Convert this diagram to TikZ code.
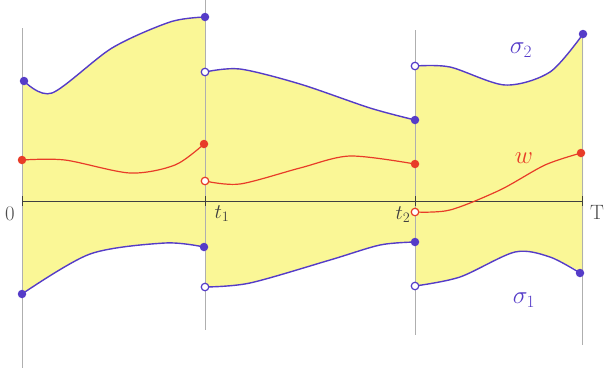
\documentclass[tikz,border=0pt]{standalone}
\usepackage{tikz}
\definecolor{yfill}{RGB}{250,247,150}
\definecolor{sblue}{RGB}{85,60,200}
\definecolor{wred}{RGB}{232,60,40}
\definecolor{vgray}{RGB}{175,175,175}
\tikzset{
  bluecurve/.style={draw=sblue, line width=1.4pt, line cap=round},
  redcurve/.style={draw=wred, line width=1.2pt, line cap=round},
  fdot/.style={circle, inner sep=0pt, minimum size=8.5pt},
  odot/.style={circle, inner sep=0pt, minimum size=7.5pt, fill=white, line width=1.2pt},
  vline/.style={draw=vgray, line width=0.4pt},
  lbl/.style={inner sep=1pt, font=\fontsize{20}{24}\selectfont},
  big/.style={inner sep=1pt, font=\fontsize{24}{28}\selectfont},
}
\begin{document}
\begin{tikzpicture}[x=1pt,y=-1pt]
\useasboundingbox (0,0) rectangle (604,368);
% yellow regions
\fill[yfill] plot[smooth] coordinates {(22,81) (52,93) (112,48) (170,22) (205,17)}
  -- plot[smooth] coordinates {(205,247) (165,243) (90,254) (22,294)} -- cycle;
\fill[yfill] plot[smooth] coordinates {(205,72) (240,69) (300,84) (370,108) (415,120)}
  -- plot[smooth] coordinates {(415,242) (380,245) (330,260) (250,283) (205,287)} -- cycle;
\fill[yfill] plot[smooth] coordinates {(415,66) (450,67) (505,85) (550,72) (583,34)}
  -- plot[smooth] coordinates {(583,273) (550,257) (515,252) (460,277) (415,286)} -- cycle;
% vertical lines
\coordinate (v0t) at (22,28);  \coordinate (v0b) at (22,368);
\coordinate (v1t) at (205,0);  \coordinate (v1b) at (205,330);
\coordinate (v2t) at (415,30); \coordinate (v2b) at (415,335);
\coordinate (v3t) at (582,30); \coordinate (v3b) at (582,345);
\draw[vline] (v0t) -- (v0b);
\draw[vline] (v1t) -- (v1b);
\draw[vline] (v2t) -- (v2b);
\draw[vline] (v3t) -- (v3b);
% axis
\coordinate (a0) at (22,201); \coordinate (a3) at (582,201);
\draw[black!75, line width=0.7pt] (a0) -- (a3);
\foreach \x in {22,205,415,582} \draw[black!75, line width=0.7pt] (\x,196) -- (\x,206);
\node[lbl, text=black!70] (l0) at (10,214) {$0$};
\node[lbl, text=black!75] (l1) at (222,214) {$t_1$};
\node[lbl, text=black!75] (l2) at (403,215) {$t_2$};
\node[lbl, text=black!70] (lT) at (597,212) {$\mathrm{T}$};
% sigma2
\draw[bluecurve] plot[smooth] coordinates {(24,81) (52,93) (112,48) (170,22) (205,17)};
\draw[bluecurve] plot[smooth] coordinates {(205,72) (240,69) (300,84) (370,108) (415,120)};
\draw[bluecurve] plot[smooth] coordinates {(415,66) (450,67) (505,85) (550,72) (583,34)};
% w
\draw[redcurve] plot[smooth] coordinates {(22,160) (65,160) (130,173) (175,165) (204,144)};
\draw[redcurve] plot[smooth] coordinates {(205,181) (240,184) (300,168) (350,156) (415,164)};
\draw[redcurve] plot[smooth] coordinates {(415,212) (450,210) (500,190) (545,165) (581,153)};
% sigma1
\draw[bluecurve] plot[smooth] coordinates {(22,294) (90,254) (165,243) (204,247)};
\draw[bluecurve] plot[smooth] coordinates {(205,287) (250,283) (330,260) (380,245) (415,242)};
\draw[bluecurve] plot[smooth] coordinates {(415,286) (460,277) (515,252) (550,257) (580,273)};
% dots
\node[fdot, fill=sblue] (s2a) at (24,81) {};
\node[fdot, fill=sblue] (s2b) at (205,17) {};
\node[odot, draw=sblue] (s2c) at (205,72) {};
\node[fdot, fill=sblue] (s2d) at (415,120) {};
\node[odot, draw=sblue] (s2e) at (415,66) {};
\node[fdot, fill=sblue] (s2f) at (583,34) {};
\node[fdot, fill=wred] (wa) at (22,160) {};
\node[fdot, fill=wred] (wb) at (204,144) {};
\node[odot, draw=wred] (wc) at (205,181) {};
\node[fdot, fill=wred] (wd) at (415,164) {};
\node[odot, draw=wred] (we) at (415,212) {};
\node[fdot, fill=wred] (wf) at (581,153) {};
\node[fdot, fill=sblue] (s1a) at (22,294) {};
\node[fdot, fill=sblue] (s1b) at (204,247) {};
\node[odot, draw=sblue] (s1c) at (205,287) {};
\node[fdot, fill=sblue] (s1d) at (415,242) {};
\node[odot, draw=sblue] (s1e) at (415,286) {};
\node[fdot, fill=sblue] (s1f) at (580,273) {};
% labels
\node[big, text=sblue] (ls2) at (521,50) {$\sigma_2$};
\node[big, text=sblue] (ls1) at (524,300) {$\sigma_1$};
\node[big, text=wred] (lw) at (524,158) {$w$};
\end{tikzpicture}
\end{document}
